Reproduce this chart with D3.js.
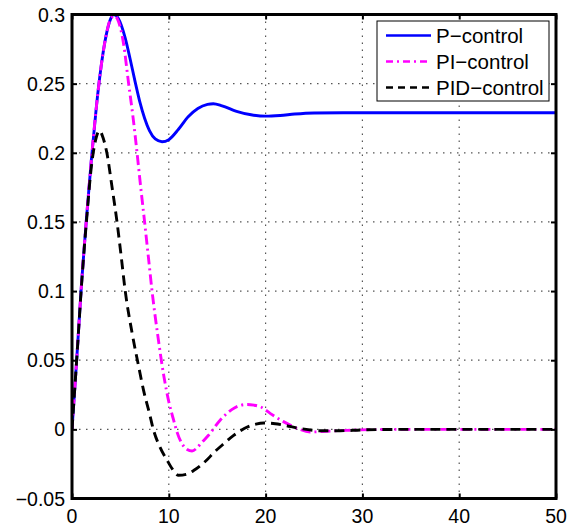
<!DOCTYPE html>
<html>
<head>
<meta charset="utf-8">
<script src="https://cdn.jsdelivr.net/npm/d3@7"></script>
<style>
  body { margin: 0; background: #fff; }
  svg { display: block; font-family: "Liberation Sans", Arial, Helvetica, sans-serif; }
</style>
</head>
<body>
<div id="chart"></div>
<script>
// Data
const tP  = [0, 0.5, 1, 1.5, 2, 2.5, 3, 3.5, 4, 4.3, 4.8, 5.5, 6, 6.5, 7, 7.5, 8, 8.6, 9.3, 10, 11, 12, 13, 14, 14.6, 15.5, 17, 18.5, 20, 21.5, 23, 25, 28, 35, 50];
const yP  = [0, 0.052, 0.107, 0.153, 0.195, 0.232, 0.262, 0.284, 0.297, 0.300, 0.297, 0.283, 0.268, 0.252, 0.237, 0.225, 0.216, 0.210, 0.208, 0.2095, 0.217, 0.226, 0.232, 0.235, 0.2355, 0.234, 0.230, 0.2275, 0.2265, 0.227, 0.228, 0.2288, 0.229, 0.229, 0.229];

const tPI = [0, 0.5, 1, 1.5, 2, 2.5, 3, 3.5, 4, 4.4, 4.8, 5.3, 5.85, 6.3, 6.72, 7.1, 7.5, 7.9, 8.27, 8.9, 9.5, 10, 10.5, 10.85, 11.36, 11.9, 12.4, 12.9, 13.3, 14.1, 15.3, 16.5, 17.3, 18.1, 18.8, 19.5, 20.5, 21.9, 23.3, 24.6, 26.3, 28.4, 31, 35, 50];
const yPI = [0, 0.052, 0.107, 0.153, 0.195, 0.232, 0.262, 0.284, 0.297, 0.299, 0.295, 0.280, 0.250, 0.226, 0.200, 0.175, 0.150, 0.124, 0.100, 0.066, 0.038, 0.020, 0.0066, -0.002, -0.0103, -0.0145, -0.0156, -0.0135, -0.0103, -0.0043, 0.0066, 0.0143, 0.0172, 0.018, 0.0175, 0.0162, 0.0114, 0.0054, 0.0006, -0.0019, -0.0014, -0.0007, -0.0002, 0, 0];

const tPID = [0, 0.5, 1, 1.5, 2, 2.4, 2.85, 3.2, 3.6, 4.1, 4.65, 5.1, 5.5, 6.2, 6.9, 7.4, 8, 8.4, 9.1, 9.8, 10.4, 11, 11.8, 12.6, 13.3, 13.95, 14.7, 15.5, 16.7, 17.4, 18.1, 19, 19.8, 21, 21.9, 23.6, 25.7, 27.7, 30, 35, 50];
const yPID = [0, 0.052, 0.106, 0.151, 0.190, 0.208, 0.216, 0.211, 0.200, 0.177, 0.150, 0.124, 0.100, 0.070, 0.045, 0.028, 0.0116, 0, -0.013, -0.022, -0.029, -0.0332, -0.0325, -0.0296, -0.026, -0.022, -0.0165, -0.0115, -0.0043, -0.001, 0.0017, 0.0038, 0.0046, 0.0041, 0.003, 0.0006, -0.001, -0.001, -0.0004, 0, 0];

const xTicks = [0, 10, 20, 30, 40, 50];
const yTicks = [-0.05, 0, 0.05, 0.1, 0.15, 0.2, 0.25, 0.3];
const yTickLabels = ["\u22120.05", "0", "0.05", "0.1", "0.15", "0.2", "0.25", "0.3"];
const seriesNames = ["P\u2212control", "PI\u2212control", "PID\u2212control"];

// Layout
const width = 574, height = 528;
const margin = {top: 14.5, right: 18, bottom: 29.5, left: 72};
const iw = width - margin.left - margin.right;
const ih = height - margin.top - margin.bottom;

const series = [
  {name: seriesNames[0], t: tP,   y: yP,   color: "#0000ff", dash: null},
  {name: seriesNames[1], t: tPI,  y: yPI,  color: "#ff00ff", dash: "10,4,2,4"},
  {name: seriesNames[2], t: tPID, y: yPID, color: "#000000", dash: "10,6"}
];

const svg = d3.select("#chart").append("svg")
    .attr("width", width)
    .attr("height", height);

svg.append("rect").attr("width", width).attr("height", height).attr("fill", "#fff");

const g = svg.append("g").attr("transform", `translate(${margin.left},${margin.top})`);

const x = d3.scaleLinear().domain([0, 50]).range([0, iw]);
const y = d3.scaleLinear().domain([-0.05, 0.3]).range([ih, 0]);

// dotted grid
g.append("g").selectAll("line.gx")
  .data(xTicks.filter(d => d > 0 && d < 50))
  .join("line")
    .attr("x1", d => x(d)).attr("x2", d => x(d))
    .attr("y1", 0).attr("y2", ih)
    .attr("stroke", "#555").attr("stroke-width", 1.2)
    .attr("stroke-dasharray", "1.5,5.5");

g.append("g").selectAll("line.gy")
  .data(yTicks.filter(d => d > -0.05 && d < 0.3))
  .join("line")
    .attr("x1", 0).attr("x2", iw)
    .attr("y1", d => y(d)).attr("y2", d => y(d))
    .attr("stroke", "#555").attr("stroke-width", 1.2)
    .attr("stroke-dasharray", "1.5,5.5");

// curves
const line = d3.line()
    .x(d => x(d[0]))
    .y(d => y(d[1]))
    .curve(d3.curveMonotoneX);

svg.append("clipPath").attr("id", "clip")
  .append("rect").attr("width", iw).attr("height", ih);

g.append("g").attr("clip-path", "url(#clip)")
  .selectAll("path")
  .data(series)
  .join("path")
    .attr("d", s => line(s.t.map((t, i) => [t, s.y[i]])))
    .attr("fill", "none")
    .attr("stroke", s => s.color)
    .attr("stroke-width", 2.9)
    .attr("stroke-dasharray", s => s.dash);

// frame with inward ticks on all sides
const tickLen = 5;
g.append("g").call(d3.axisBottom(x).tickValues(xTicks).tickSize(-tickLen).tickFormat(""))
  .attr("transform", `translate(0,${ih})`);
g.append("g").call(d3.axisTop(x).tickValues(xTicks).tickSize(-tickLen).tickFormat(""));
g.append("g").call(d3.axisLeft(y).tickValues(yTicks).tickSize(-tickLen).tickFormat(""));
g.append("g").call(d3.axisRight(y).tickValues(yTicks).tickSize(-tickLen).tickFormat(""))
  .attr("transform", `translate(${iw},0)`);
g.selectAll(".domain").remove();
g.selectAll(".tick line").attr("stroke", "#000").attr("stroke-width", 2);

g.append("rect")
  .attr("width", iw).attr("height", ih)
  .attr("fill", "none").attr("stroke", "#000").attr("stroke-width", 3);

// tick labels
g.append("g").selectAll("text")
  .data(xTicks)
  .join("text")
    .attr("x", d => x(d))
    .attr("y", ih + 24)
    .attr("text-anchor", "middle")
    .attr("font-size", 19.5)
    .text(d => d);

g.append("g").selectAll("text")
  .data(yTicks)
  .join("text")
    .attr("x", -7)
    .attr("y", d => y(d))
    .attr("dy", "0.36em")
    .attr("text-anchor", "end")
    .attr("font-size", 19.5)
    .text((d, i) => yTickLabels[i]);

// legend
const lg = svg.append("g").attr("transform", "translate(377,21)");
lg.append("rect")
  .attr("width", 172).attr("height", 80)
  .attr("fill", "#fff").attr("stroke", "#000").attr("stroke-width", 1);

const rows = lg.selectAll("g.row")
  .data(series)
  .join("g")
    .attr("transform", (d, i) => `translate(0,${14.5 + i * 26})`);

rows.append("line")
  .attr("x1", 9).attr("x2", 54)
  .attr("stroke", d => d.color)
  .attr("stroke-width", 2.6)
  .attr("stroke-dasharray", d => d.dash === null ? null : (d.dash === "10,6" ? "7,5" : "7,4,2,4"));

rows.append("text")
  .attr("x", 59)
  .attr("dy", "0.36em")
  .attr("font-size", 20.5)
  .text(d => d.name);
</script>
</body>
</html>
